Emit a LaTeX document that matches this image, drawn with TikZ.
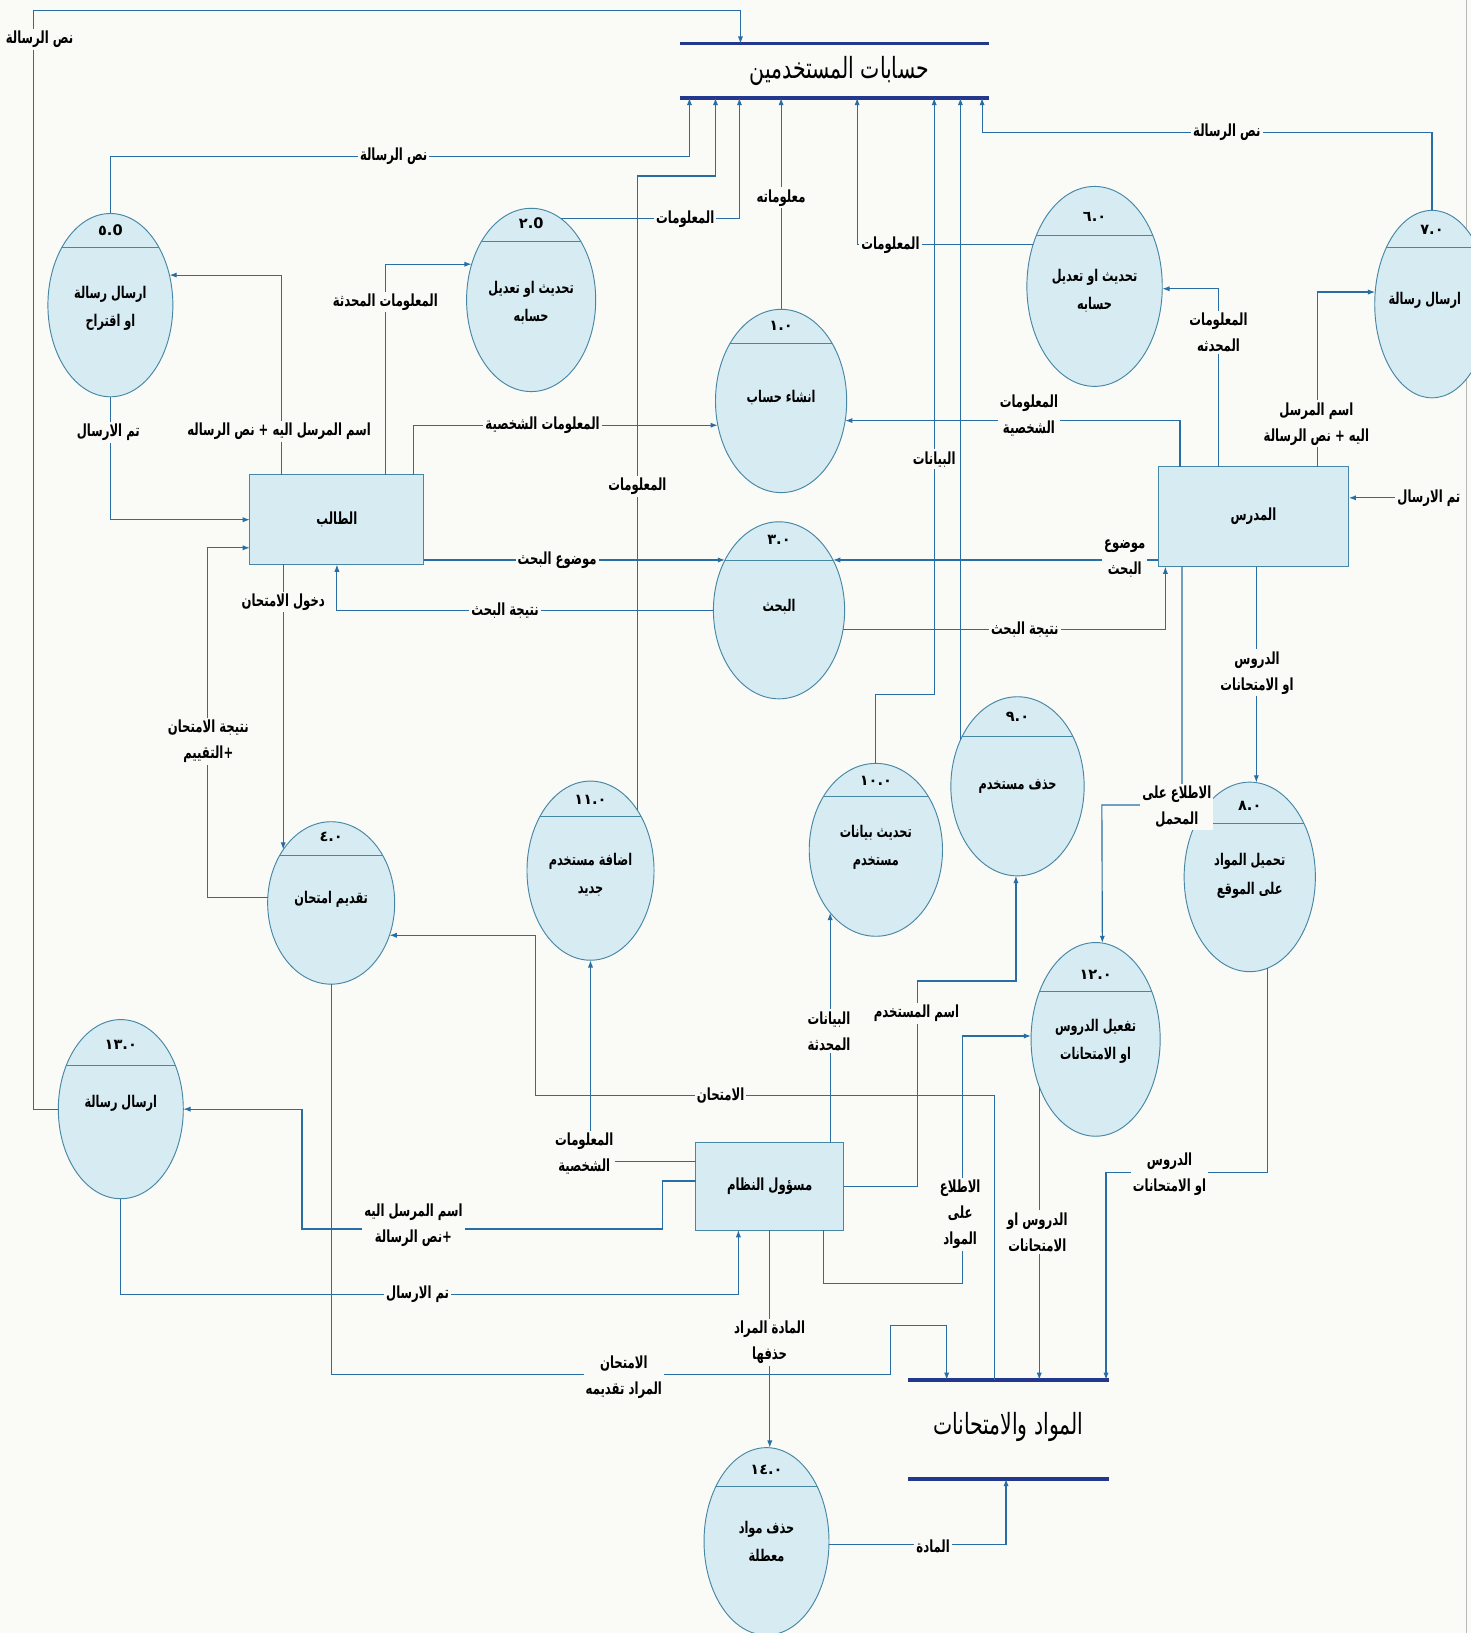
\documentclass[tikz,border=0pt]{standalone}
\usepackage{fontspec}
\usetikzlibrary{shapes.geometric,arrows.meta,calc}
\TeXXeTstate=1
\newfontfamily\arfont[Script=Arabic,FakeStretch=0.7]{DejaVu Sans}
\newfontfamily\stfont[Script=Arabic,FakeStretch=0.7]{DejaVu Sans}
\newfontfamily\numfont{DejaVu Sans}
\newcommand{\AR}[1]{\beginR #1\endR}
\definecolor{bgc}{RGB}{250,250,247}
\definecolor{pfill}{RGB}{214,235,242}
\definecolor{pcol}{RGB}{70,135,165}
\definecolor{fcol}{RGB}{40,110,165}
\definecolor{barcol}{RGB}{35,55,140}
\tikzset{
  proc/.style args={#1/#2/#3}{ellipse, draw=pcol, fill=pfill, line width=0.9pt,
    minimum width=#1pt, minimum height=#2pt, inner sep=0pt, outer sep=0pt,
    path picture={\draw[pcol,line width=0.9pt] ([yshift=-#3pt]path picture bounding box.north west) -- ([yshift=-#3pt]path picture bounding box.north east);}},
  ent/.style={rectangle, draw=pcol, fill=pfill, line width=0.9pt, inner sep=0pt, outer sep=0pt,
    font=\arfont\bfseries\fontsize{16}{19}\selectfont},
  num/.style={font=\numfont\bfseries\fontsize{14}{16}\selectfont, inner sep=0pt},
  ptxt/.style={font=\arfont\bfseries\fontsize{15.5}{27}\selectfont, align=center, inner sep=0pt},
  lbl/.style={fill=bgc, inner sep=2pt, align=center, font=\arfont\bfseries\fontsize{16}{25}\selectfont},
  storetxt/.style={font=\stfont\fontsize{28}{32}\selectfont, inner sep=0pt},
  flow/.style={draw=fcol, line width=1.1pt, -{Latex[length=7pt,width=5pt]}},
  bar/.style={draw=barcol, line width=3.2pt}
}
\begin{document}
\begin{tikzpicture}[x=1pt,y=-1pt]
\fill[bgc] (0,0) rectangle (1412,1568);
\useasboundingbox (0,0) rectangle (1412,1568);
\draw[gray!55,line width=1.5pt] (1408,0) -- (1408,1568);

% ---------- data stores
\draw[bar] (653,42) -- (950,42);
\draw[bar] (653,94) -- (950,94);
\node[storetxt] (sa) at (806,68) {\AR{حسابات المستخدمين}};
\coordinate (saT) at (806,42);
\coordinate (saB) at (806,94);
\coordinate (sa1) at (711,42);
\coordinate (sa2) at (662,94);
\coordinate (sa3) at (710,94);
\coordinate (sa4) at (687,94);
\coordinate (sa5) at (823,94);
\coordinate (sa6) at (897,94);
\coordinate (sa8) at (943,94);

\draw[bar] (872,1325) -- (1065,1325);
\draw[bar] (872,1420) -- (1065,1420);
\node[storetxt] (sb) at (968,1370) {\AR{المواد والامتحانات}};
\coordinate (sbT) at (968,1325);
\coordinate (sb1) at (909,1325);
\coordinate (sb2) at (955,1325);
\coordinate (sb3) at (1062,1325);
\coordinate (sb4) at (966,1420);

% ---------- external entities
\node[ent, minimum width=167pt, minimum height=86pt] (st) at (323.5,499) {\AR{الطالب}};
\node[ent, minimum width=183pt, minimum height=96pt] (te) at (1203.5,496) {\AR{المدرس}};
\node[ent, minimum width=142pt, minimum height=84pt] (ad) at (739,1139) {\AR{مسؤول النظام}};

% ---------- processes
\node[proc=120/176/33] (c5) at (106,293) {};
\node[num] at (106,221) {٥.0};
\node[ptxt] at (106,296) {\AR{ارسال رسالة}\\\AR{او اقتراح}};

\node[proc=124/176/32] (c2) at (510,288) {};
\node[num] at (510,214) {٢.0};
\node[ptxt] at (510,291) {\AR{تحديث او تعديل}\\\AR{حسابه}};

\node[proc=126/176/33] (c1) at (750,385) {};
\node[num] at (750,313) {١.٠};
\node[ptxt] at (750,382) {\AR{انشاء حساب}};

\node[proc=130/192/47] (c6) at (1051,275) {};
\node[num] at (1051,208) {٦.٠};
\node[ptxt] at (1051,279) {\AR{تحديث او تعديل}\\\AR{حسابه}};

\node[proc=110/180/36] (c7) at (1375,292) {};
\node[num] at (1375,221) {٧.٠};
\node[ptxt] at (1368,288) {\AR{ارسال رسالة}};

\node[proc=126/170/37] (c3) at (748,586) {};
\node[num] at (748,518) {٣.٠};
\node[ptxt] at (748,583) {\AR{البحث}};

\node[proc=128/172/38] (c9) at (977,755) {};
\node[num] at (977,688) {٩.٠};
\node[ptxt] at (977,755) {\AR{حذف مستخدم}};

\node[proc=128/166/32] (c10) at (841,816) {};
\node[num] at (841,750) {١٠.٠};
\node[ptxt] at (841,814) {\AR{تحديث بيانات}\\\AR{مستخدم}};

\node[proc=122/172/34] (c11) at (567,836) {};
\node[num] at (567,768) {١١.٠};
\node[ptxt] at (567,840) {\AR{اضافة مستخدم}\\\AR{جديد}};

\node[proc=122/156/32] (c4) at (318,867) {};
\node[num] at (318,804) {٤.٠};
\node[ptxt] at (318,864) {\AR{تقديم امتحان}};

\node[proc=126/182/40] (c8) at (1200,842) {};
\node[num] at (1200,774) {٨.٠};
\node[ptxt] at (1200,841) {\AR{تحميل المواد}\\\AR{على الموقع}};

\node[proc=124/186/47] (c12) at (1052,998) {};
\node[num] at (1052,936) {١٢.٠};
\node[ptxt] at (1052,1000) {\AR{تفعيل الدروس}\\\AR{او الامتحانات}};

\node[proc=120/172/44] (c13) at (116,1065) {};
\node[num] at (116,1003) {١٣.٠};
\node[ptxt] at (116,1059) {\AR{ارسال رسالة}};

\node[proc=120/180/37] (c14) at (736,1480) {};
\node[num] at (736,1411) {١٤.٠};
\node[ptxt] at (736,1480) {\AR{حذف مواد}\\\AR{معطلة}};

% ---------- flows to store A
\draw[flow] (c13.west) -| (32,10) -| (sa1);
\draw[flow] (c5.north) |- (662,150) -- (sa2);
\draw[flow] (c2.70) -| (sa3);
\draw[flow] (c1.north) -- (c1.north |- saB);
\draw[flow] (c6.146) -| (sa5);
\draw[flow] (c7.north) |- (943,127) -- (sa8);
\draw[flow] (c11.52) |- (687,169) -- (sa4);
\draw[flow] (c10.north) |- (897,667) -- (sa6);
\draw[flow] (c9.141) -- (c9.141 |- saB);

% ---------- student
\draw[flow] ($(st.north west)+(30,0)$) |- (c5.27);
\draw[flow] ($(st.north west)+(130,0)$) |- (c2.149);
\draw[flow] ($(st.north west)+(157,0)$) |- (c1.201);
\draw[flow] (c5.south) |- (st.west);
\draw[flow] (c4.175) -| (199,526) -- ($(st.south west)+(0,-16)$);
\draw[flow] (c4.132 |- st.south) -- (c4.132);
\draw[flow] (c3.137 -| st.east) -- (c3.137);
\draw[flow] (c3.west) -| (st.south);

% ---------- teacher
\coordinate (t4s) at (1400,478);
\draw[flow] ($(te.north west)+(21,0)$) |- (c1.343);
\draw[flow] ($(te.north west)+(58,0)$) |- (c6.358);
\draw[flow] ($(te.north west)+(153,0)$) |- (c7.168);
\draw[flow] (t4s) -- (t4s -| te.east);
\draw[flow] (c3.43 -| te.west) -- (c3.43);
\draw[flow] (c3.343) -| ($(te.south west)+(7,0)$);
\draw[flow] (c8.86 |- te.south) -- (c8.86);
\draw[flow] ($(te.south west)+(23,0)$) |- (1058,773) -- (c12.86);
\draw[flow] (c8.281) |- (1062,1126) -- (sb3);
\draw[flow] (c12.220) -- (c12.220 |- sbT);

% ---------- admin
\draw[flow] (c10.234 |- ad.north) -- (c10.234);
\draw[flow] (ad.east) -| (881,942) -| (c9.269);
\draw[flow] ($(ad.north west)+(0,18)$) -| (c11.south);
\draw[flow] (sb2) |- (514,1052) |- (c4.331);
\draw[flow] ($(ad.south west)+(123,0)$) |- (924,1232) |- (c12.177);
\draw[flow] (c14.88 |- ad.south) -- (c14.88);
\draw[flow] ($(ad.south west)+(0,-47)$) -| (636,1180) -| (290,1065) -- (c13.east);
\draw[flow] (c13.south) |- ($(ad.south west)+(41,62)$) -- ($(ad.south west)+(41,0)$);
\draw[flow] (c4.south) |- (855,1320) |- (909,1273) -- (sb1);
\draw[flow] (c14.357) -| (sb4);

% ---------- labels
\node[lbl] at (38,38) {\AR{نص الرسالة}};
\node[lbl] at (378,150) {\AR{نص الرسالة}};
\node[lbl] at (658,210) {\AR{المعلومات}};
\node[lbl] at (750,190) {\AR{معلوماته}};
\node[lbl] at (855,235) {\AR{المعلومات}};
\node[lbl] at (1178,127) {\AR{نص الرسالة}};
\node[lbl] at (612,467) {\AR{المعلومات}};
\node[lbl] at (897,441) {\AR{البيانات}};

\node[lbl] at (268,414) {\AR{اسم المرسل اليه + نص الرساله}};
\node[lbl] at (370,290) {\AR{المعلومات المحدثة}};
\node[lbl] at (521,408) {\AR{المعلومات الشخصية}};
\node[lbl] at (104,415) {\AR{تم الارسال}};
\node[lbl] at (200,712) {\AR{نتيجة الامتحان}\\\AR{+التقييم}};
\node[lbl] at (272,578) {\AR{دخول الامتحان}};
\node[lbl] at (535,538) {\AR{موضوع البحث}};
\node[lbl] at (485,586) {\AR{نتيجة البحث}};

\node[lbl] at (988,399) {\AR{المعلومات}\\\AR{الشخصية}};
\node[lbl] at (1170,319) {\AR{المعلومات}\\\AR{المحدثه}};
\node[lbl] at (1264,407) {\AR{اسم المرسل}\\\AR{اليه + نص الرسالة}};
\node[lbl] at (1372,478) {\AR{تم الارسال}};
\node[lbl] at (1080,536) {\AR{موضوع}\\\AR{البحث}};
\node[lbl] at (984,605) {\AR{نتيجة البحث}};
\node[lbl] at (1207,646) {\AR{الدروس}\\\AR{او الامتحانات}};
\node[lbl] at (1130,775) {\AR{الاطلاع على}\\\AR{المحمل}};
\node[lbl] at (1123,1127) {\AR{الدروس}\\\AR{او الامتحانات}};
\node[lbl] at (996,1183) {\AR{الدروس او}\\\AR{الامتحانات}};

\node[lbl] at (796,990) {\AR{البيانات}\\\AR{المحدثة}};
\node[lbl] at (880,973) {\AR{اسم المستخدم}};
\node[lbl] at (561,1108) {\AR{المعلومات}\\\AR{الشخصية}};
\node[lbl] at (692,1052) {\AR{الامتحان}};
\node[lbl] at (922,1166) {\AR{الاطلاع}\\\AR{على}\\\AR{المواد}};
\node[lbl] at (739,1289) {\AR{المادة المراد}\\\AR{حذفها}};
\node[lbl] at (397,1176) {\AR{اسم المرسل اليه}\\\AR{+نص الرسالة}};
\node[lbl] at (401,1243) {\AR{تم الارسال}};
\node[lbl] at (599,1322) {\AR{الامتحان}\\\AR{المراد تقديمه}};
\node[lbl] at (896,1485) {\AR{المادة}};
\end{tikzpicture}
\end{document}
